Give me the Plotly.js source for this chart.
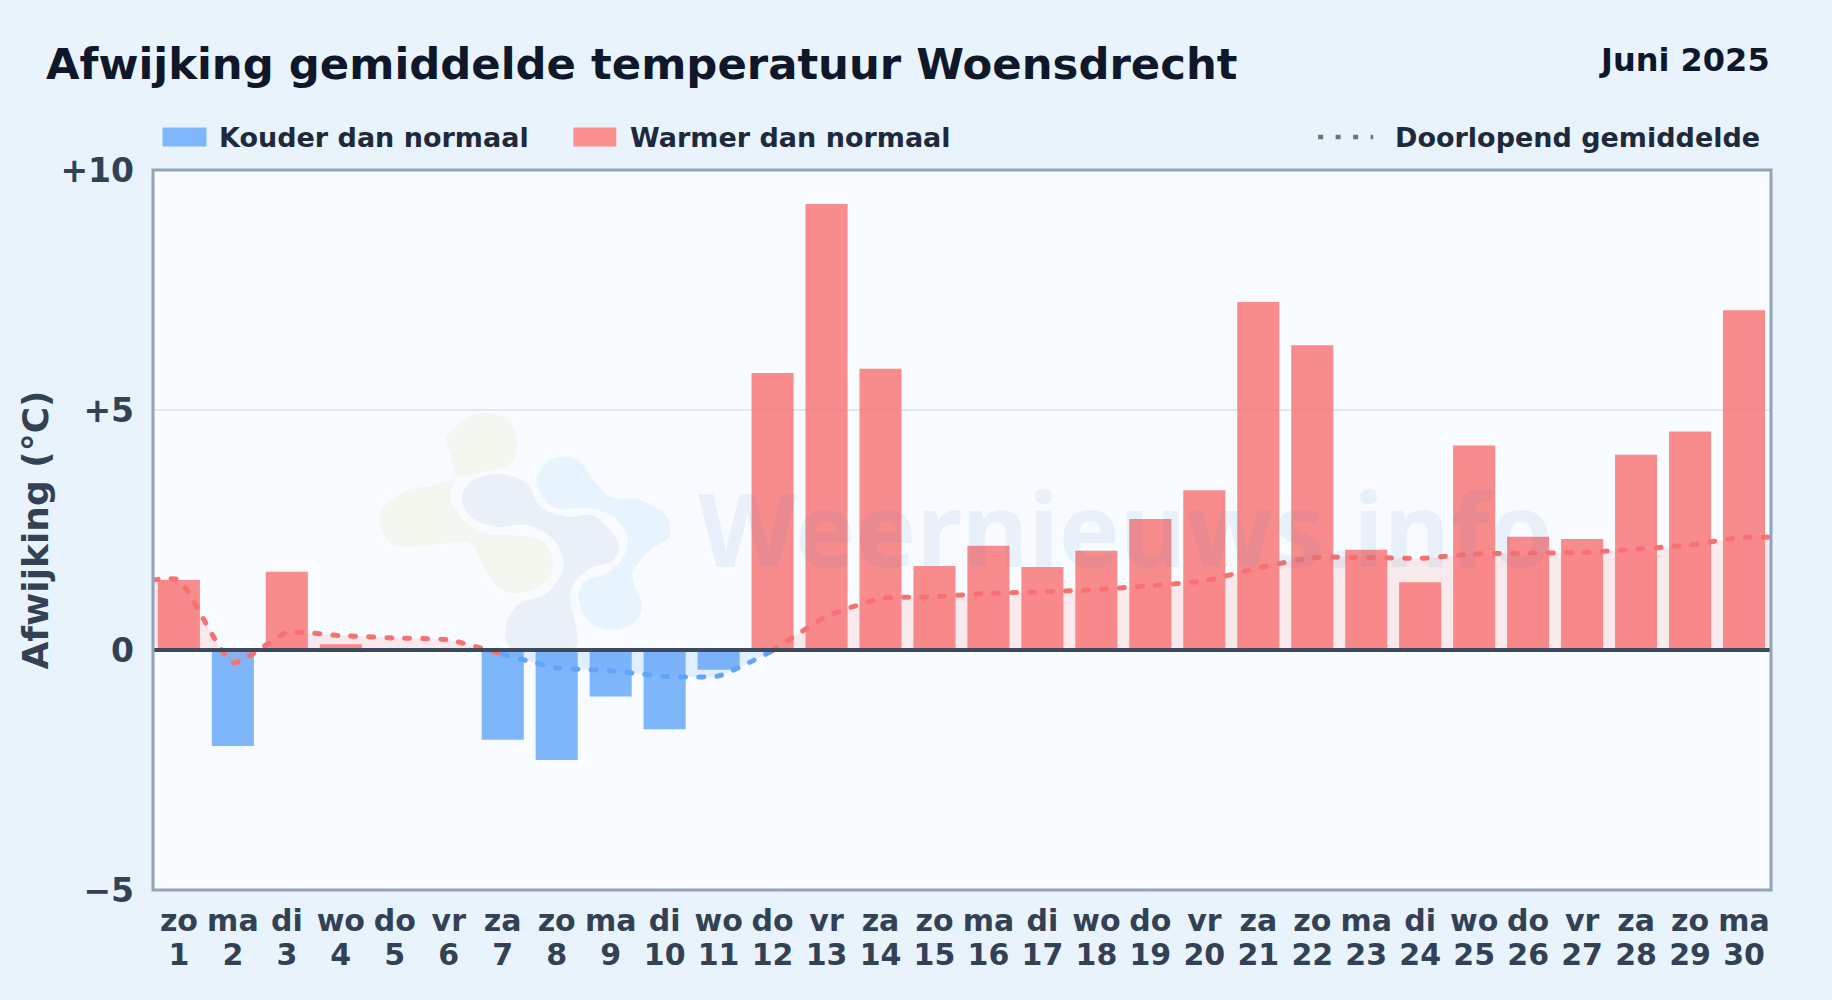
<!DOCTYPE html>
<html><head><meta charset="utf-8">
<script src="https://cdn.plot.ly/plotly-3.0.1.min.js"></script>
<style>
html,body{margin:0;padding:0;background:#e8f3fc;}
#chart{width:1832px;height:1000px;}
.scatterlayer .js-line{stroke-linecap:round;}
</style></head><body><div id="chart"></div>
<script>
const weekdays=["zo","ma","di","wo","do","vr","za","zo","ma","di","wo","do","vr","za","zo","ma","di","wo","do","vr","za","zo","ma","di","wo","do","vr","za","zo","ma"];
const days=[1,2,3,4,5,6,7,8,9,10,11,12,13,14,15,16,17,18,19,20,21,22,23,24,25,26,27,28,29,30];
const deviation=[1.46,-2.0,1.63,0.12,0.03,0,-1.87,-2.29,-0.97,-1.65,-0.41,5.77,9.29,5.86,1.75,2.17,1.73,2.07,2.73,3.33,7.25,6.35,2.09,1.41,4.26,2.36,2.31,4.07,4.55,7.08];
const meanDays=[0.52,1,2,3,4,5,6,7,8,9,10,11,12,13,14,15,16,17,18,19,20,21,22,23,24,25,26,27,28,29,30,30.5];
const runningMean=[1.46,1.46,-0.27,0.36,0.30,0.25,0.21,-0.09,-0.37,-0.43,-0.55,-0.54,-0.015,0.70,1.07,1.11,1.18,1.21,1.26,1.34,1.44,1.71,1.925,1.93,1.91,2.0,2.02,2.03,2.10,2.19,2.35,2.35];
const yTicks=[-5,0,5,10];
const yLabels=["−5","0","+5","+10"];
const COLD="#60a5fa",WARM="#f87171";
const font="DejaVu Sans";

function slice(a,b){const i=meanDays.indexOf(a),j=meanDays.indexOf(b);return {x:meanDays.slice(i,j+1),y:runningMean.slice(i,j+1)};}
function lineTrace(r,c,fill){return {type:"scatter",mode:"lines",x:r.x,y:r.y,xaxis:"x",yaxis:"y",hoverinfo:"skip",showlegend:false,
 line:{color:c,width:5,shape:"spline",smoothing:0.5,dash:"5px,13px"},fill:"tozeroy",fillcolor:fill};}
const traces=[
 {type:"bar",x:days,y:deviation,width:0.78,hoverinfo:"skip",showlegend:false,
  marker:{color:deviation.map(v=>v<0?COLD:WARM),opacity:0.8,line:{width:0}}},
 lineTrace(slice(0.52,7),WARM,"rgba(248,113,113,0.13)"),
 lineTrace(slice(7,12),COLD,"rgba(96,165,250,0.15)"),
 lineTrace(slice(12,30.5),WARM,"rgba(248,113,113,0.13)"),
 {type:"scatter",mode:"none",x:days,y:days.map(()=>null),xaxis:"x2",yaxis:"y",hoverinfo:"skip",showlegend:false}
];

function blobPath(p){let d="M"+p[0].join(" ");const n=p.length;
 for(let i=0;i<n;i++){const a=p[(i-1+n)%n],b=p[i],c=p[(i+1)%n],e=p[(i+2)%n];
  d+=" C"+(b[0]+(c[0]-a[0])/6)+" "+(b[1]+(c[1]-a[1])/6)+" "+(c[0]-(e[0]-b[0])/6)+" "+(c[1]-(e[1]-b[1])/6)+" "+c[0]+" "+c[1];}
 return d+"Z";}
const green=[[320,170],[400,105],[490,110],[530,180],[510,250],[430,275],[360,290],[300,310],[190,335],[120,400],[140,480],[200,500],[320,490],[390,490],[430,560],[470,620],[530,640],[610,610],[640,550],[600,480],[500,465],[420,455],[360,410],[330,350],[345,290],[330,230]];
const grey=[[365,350],[400,300],[480,282],[560,310],[600,380],[680,410],[760,408],[830,480],[820,540],[740,570],[690,640],[710,760],[690,808],[520,808],[498,730],[540,670],[620,640],[670,560],[640,480],[560,435],[470,440],[390,410]];
const blue=[[590,290],[640,235],[710,240],[760,300],[810,350],[900,360],[980,410],[985,470],[930,510],[880,570],[880,610],[905,680],[880,730],[810,750],[740,720],[715,650],[740,600],[800,580],[850,530],[860,470],[820,410],[740,385],[650,385],[600,340]];
const svg='<svg xmlns="http://www.w3.org/2000/svg" viewBox="0 0 1200 900" width="1200" height="900">'+
 '<path fill="#f2f8f0" d="'+blobPath(green)+'"/><path fill="#e9f0f8" d="'+blobPath(grey)+'"/><path fill="#e8f4fd" d="'+blobPath(blue)+'"/></svg>';
const W=1832,H=1000,L=152.5,R=61,T=169.5,B=109.5;
const px=x=>(x-L)/(W-L-R), py=y=>1-(y-T)/(H-T-B);
const layout={
 width:W,height:H,margin:{l:L,r:R,t:T,b:B,pad:0},
 paper_bgcolor:"rgba(0,0,0,0)",plot_bgcolor:"#f8fbff",
 font:{family:font,color:"#334155"},
 showlegend:false,hovermode:false,
 xaxis:{range:[0.52,30.5],tickmode:"array",tickvals:days,ticktext:weekdays,showgrid:false,zeroline:false,showline:false,ticks:"",
  tickfont:{family:font,size:30,color:"#334155",weight:700},tickangle:0,ticklabelstandoff:10,automargin:false},
 xaxis2:{overlaying:"x",side:"bottom",anchor:"y",range:[0.52,30.5],tickmode:"array",tickvals:days,ticktext:days.map(String),showgrid:false,zeroline:false,showline:false,ticks:"",
  tickfont:{family:font,size:30,color:"#334155",weight:700},tickangle:0,ticklabelstandoff:44,automargin:false},
 yaxis:{range:[-5,10],tickmode:"array",tickvals:yTicks,ticktext:yLabels,showgrid:true,gridcolor:"#e2e8f0",gridwidth:2,zeroline:false,showline:false,ticks:"",
  tickfont:{family:font,size:33,color:"#334155",weight:700},ticklabelstandoff:18,automargin:false,
  title:{text:"Afwijking (°C)",font:{family:font,size:36,color:"#334155",weight:700},standoff:0}},
 title:{text:"Afwijking gemiddelde temperatuur Woensdrecht",font:{family:font,size:43.35,color:"#0f172a",weight:700},
  x:46/W,xref:"container",xanchor:"left",y:1-64/H,yanchor:"middle",yref:"container",pad:{l:0,r:0,t:0,b:0}},
 images:[{source:"data:image/svg+xml;base64,"+btoa(svg),xref:"paper",yref:"paper",
  x:px(340),y:py(380),sizex:400/(W-L-R),sizey:300/(H-T-B),xanchor:"left",yanchor:"top",sizing:"stretch",layer:"below"}],
 shapes:[
  {type:"line",xref:"paper",yref:"y",x0:0,x1:1,y0:0,y1:0,line:{color:"#3d4a5e",width:4},layer:"above"},
  {type:"rect",xref:"paper",yref:"paper",x0:0,x1:1,y0:0,y1:1,line:{color:"#94a3b8",width:3},layer:"above"},
  {type:"rect",xref:"paper",yref:"paper",x0:px(162),x1:px(206),y0:py(127),y1:py(146),fillcolor:"#80b6fb",line:{width:0},layer:"above"},
  {type:"rect",xref:"paper",yref:"paper",x0:px(573),x1:px(616),y0:py(127),y1:py(146),fillcolor:"#f98f8f",line:{width:0},layer:"above"},
  {type:"line",xref:"paper",yref:"paper",x0:px(1318),x1:px(1373),y0:py(136.5),y1:py(136.5),line:{color:"#64748b",width:4.5,dash:"5px,12.5px"},layer:"above"}
 ],
 annotations:[
  {text:"Juni 2025",xref:"paper",yref:"paper",x:px(1772),y:py(59),xanchor:"right",yanchor:"middle",showarrow:false,font:{family:font,size:32,color:"#0f172a",weight:700}},
  {text:"Kouder dan normaal",xref:"paper",yref:"paper",x:px(217),y:py(136.5),xanchor:"left",yanchor:"middle",showarrow:false,font:{family:font,size:27,color:"#1e293b",weight:700}},
  {text:"Warmer dan normaal",xref:"paper",yref:"paper",x:px(628),y:py(136.5),xanchor:"left",yanchor:"middle",showarrow:false,font:{family:font,size:27,color:"#1e293b",weight:700}},
  {text:"Doorlopend gemiddelde",xref:"paper",yref:"paper",x:px(1762),y:py(136.5),xanchor:"right",yanchor:"middle",showarrow:false,font:{family:font,size:27,color:"#1e293b",weight:700}},
  {text:"Weernieuws.info",xref:"paper",yref:"paper",x:px(1125),y:py(527),xanchor:"center",yanchor:"middle",showarrow:false,font:{family:"Noto Sans",size:102,color:"rgba(25,115,170,0.07)",weight:700}}
 ]
};
Plotly.newPlot("chart",traces,layout,{displayModeBar:false,staticPlot:true});
</script></body></html>
